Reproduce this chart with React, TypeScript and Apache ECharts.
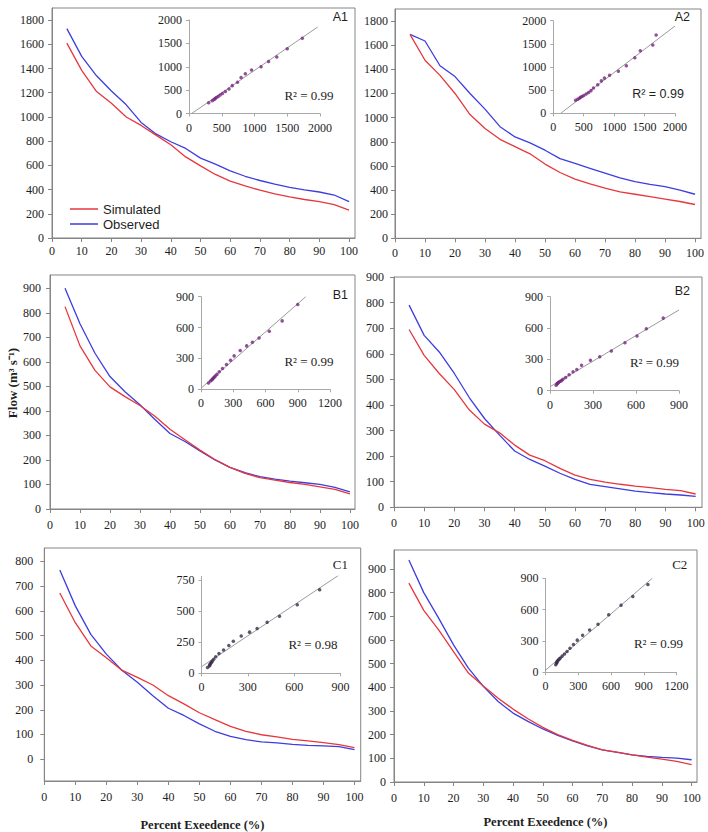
import React, { useEffect, useRef } from 'react';
import * as echarts from 'echarts';

// ---------- data ----------
const pct = [5, 10, 15, 20, 25, 30, 35, 40, 45, 50, 55, 60, 65, 70, 75, 80, 85, 90, 95, 100];

const simA1 = [1610, 1385, 1210, 1113, 1000, 930, 850, 770, 670, 596, 525, 470, 430, 395, 365, 340, 318, 300, 275, 230];
const obsA1 = [1730, 1500, 1340, 1215, 1100, 955, 860, 795, 740, 660, 610, 555, 510, 475, 445, 418, 398, 380, 355, 300];

const simA2 = [1690, 1475, 1350, 1200, 1025, 910, 820, 760, 700, 615, 545, 490, 450, 415, 385, 365, 345, 325, 305, 280];
const obsA2 = [1690, 1635, 1430, 1340, 1200, 1070, 925, 840, 790, 730, 660, 620, 580, 540, 500, 470, 447, 428, 400, 365];

const simB1 = [825, 665, 565, 498, 458, 422, 378, 325, 282, 240, 202, 170, 145, 128, 118, 108, 100, 90, 80, 62];
const obsB1 = [900, 755, 635, 540, 478, 425, 365, 308, 275, 237, 200, 170, 148, 132, 122, 114, 107, 100, 88, 70];

const simB2 = [695, 594, 523, 460, 380, 325, 291, 243, 204, 182, 152, 126, 109, 98, 90, 83, 77, 70, 65, 52];
const obsB2 = [790, 672, 607, 523, 428, 347, 282, 220, 187, 161, 133, 109, 90, 81, 72, 63, 57, 52, 48, 43];

const simC1 = [672, 552, 458, 410, 360, 331, 300, 257, 224, 188, 160, 133, 113, 99, 90, 80, 74, 67, 59, 47];
const obsC1 = [765, 620, 505, 425, 360, 311, 257, 206, 177, 143, 113, 92, 79, 70, 66, 60, 56, 54, 51, 39];

const simC2 = [840, 725, 643, 551, 460, 406, 354, 308, 267, 231, 200, 176, 155, 136, 126, 115, 105, 97, 87, 73];
const obsC2 = [938, 800, 692, 579, 481, 404, 340, 291, 256, 224, 197, 174, 153, 136, 125, 115, 108, 104, 101, 94];

// trend lines of the insets (end points)
const fitA1 = [[41, 0], [1965, 1850]];
const fitA2 = [[122, 0], [2000, 1885]];
const fitB1 = [[0, 10], [975, 900]];
const fitB2 = [[0, 38], [900, 773]];
const fitC1 = [[0, 53], [900, 798]];
const fitC2 = [[0, 20], [978, 900]];

// tick labels
const ticksPct = [0, 10, 20, 30, 40, 50, 60, 70, 80, 90, 100];
const ticksA = [0, 200, 400, 600, 800, 1000, 1200, 1400, 1600, 1800];
const ticks900 = [0, 100, 200, 300, 400, 500, 600, 700, 800, 900];
const ticks800 = [0, 100, 200, 300, 400, 500, 600, 700, 800];
const insetTicks2000 = [0, 500, 1000, 1500, 2000];
const insetTicks900 = [0, 300, 600, 900];
const insetTicks1200 = [0, 300, 600, 900, 1200];
const insetTicks750 = [0, 250, 500, 750];

const r2Labels = ['R² = 0.99', 'R² = 0.99', 'R² = 0.99', 'R² = 0.99', 'R² = 0.98', 'R² = 0.99'];
const panelNames = ['A1', 'A2', 'B1', 'B2', 'C1', 'C2'];

// ---------- styles ----------
const FRAME = '#858585';
const INSET_AXIS = '#a8a8a8';
const TEXT = '#1e1e1e';
const RED = '#e6383c';
const BLUE = '#3d3de0';
const DOT = '#74267e';
const SERIF = '"Liberation Serif", "Times New Roman", serif';
const SANS = '"Liberation Sans", Arial, sans-serif';

type Layout = {
  main: { left: number; top: number; width: number; height: number; xMax: number; yMin: number; yMax: number; yTicks: number[]; yMargin: number; xMargin: number };
  inset: { left: number; top: number; width: number; height: number; xMax: number; yMax: number; xTicks: number[]; yTicks: number[] };
  name: { x: number; y: number; sans: boolean };
  r2: { x: number; y: number; sans: boolean };
  xName?: number;
};

const layouts: Layout[] = [
  {
    main: { left: 52, top: 8, width: 303, height: 230, xMax: 102, yMin: 0, yMax: 1900, yTicks: ticksA, yMargin: 8, xMargin: 7 },
    inset: { left: 189, top: 20, width: 131, height: 93.5, xMax: 2000, yMax: 2000, xTicks: insetTicks2000, yTicks: insetTicks2000 },
    name: { x: 348, y: 17, sans: true },
    r2: { x: 309, y: 95, sans: false },
  },
  {
    main: { left: 395, top: 9, width: 306, height: 229.3, xMax: 102, yMin: 0, yMax: 1900, yTicks: ticksA, yMargin: 7, xMargin: 9 },
    inset: { left: 553.3, top: 20.7, width: 121.7, height: 92.6, xMax: 2000, yMax: 2000, xTicks: insetTicks2000, yTicks: insetTicks2000 },
    name: { x: 690, y: 17, sans: true },
    r2: { x: 658, y: 93.5, sans: true },
  },
  {
    main: { left: 50, top: 275, width: 305, height: 234, xMax: 101.7, yMin: 0, yMax: 954, yTicks: ticks900, yMargin: 9, xMargin: 10 },
    inset: { left: 201, top: 296.7, width: 129, height: 92.6, xMax: 1200, yMax: 900, xTicks: insetTicks1200, yTicks: insetTicks900 },
    name: { x: 348, y: 295, sans: true },
    r2: { x: 309, y: 361, sans: false },
  },
  {
    main: { left: 394, top: 277, width: 308, height: 230.3, xMax: 102.1, yMin: 0, yMax: 900, yTicks: ticks900, yMargin: 10, xMargin: 10 },
    inset: { left: 550, top: 296.7, width: 129, height: 94, xMax: 900, yMax: 900, xTicks: insetTicks900, yTicks: insetTicks900 },
    name: { x: 690, y: 291, sans: true },
    r2: { x: 654.5, y: 362, sans: false },
  },
  {
    main: { left: 44.3, top: 548, width: 316.4, height: 234.7, xMax: 102, yMin: -88, yMax: 854, yTicks: ticks800, yMargin: 11, xMargin: 10 },
    inset: { left: 201.5, top: 576.3, width: 139, height: 97, xMax: 900, yMax: 780, xTicks: insetTicks900, yTicks: insetTicks750 },
    name: { x: 348, y: 564, sans: false },
    r2: { x: 313, y: 644, sans: false },
    xName: 37,
  },
  {
    main: { left: 394, top: 550, width: 303, height: 232, xMax: 101.8, yMin: 0, yMax: 980, yTicks: ticks900, yMargin: 8, xMargin: 10 },
    inset: { left: 545.5, top: 578.3, width: 131, height: 94, xMax: 1200, yMax: 900, xTicks: insetTicks1200, yTicks: insetTicks900 },
    name: { x: 687.3, y: 564, sans: false },
    r2: { x: 658.5, y: 643.5, sans: false },
    xName: 33,
  },
];

const simAll = [simA1, simA2, simB1, simB2, simC1, simC2];
const obsAll = [obsA1, obsA2, obsB1, obsB2, obsC1, obsC2];
const fitAll = [fitA1, fitA2, fitB1, fitB2, fitC1, fitC2];

const plain = (v: number) => String(v);

function buildOption() {
  const grid: any[] = [];
  const xAxis: any[] = [];
  const yAxis: any[] = [];
  const series: any[] = [];
  const graphic: any[] = [];

  const labelStyle = { fontFamily: SERIF, fontSize: 12, color: TEXT, formatter: plain };

  layouts.forEach((L, i) => {
    const m = L.main;
    const s = L.inset;
    const gi = i * 2;
    grid.push({ left: m.left, top: m.top, width: m.width, height: m.height, show: true, borderColor: FRAME, borderWidth: 1, backgroundColor: 'transparent', containLabel: false });
    grid.push({ left: s.left, top: s.top, width: s.width, height: s.height, show: false, containLabel: false });

    xAxis.push({
      type: 'value', gridIndex: gi, min: 0, max: m.xMax,
      axisLine: { show: true, onZero: false, lineStyle: { color: FRAME, width: 1 } },
      axisTick: { show: true, length: 4, customValues: ticksPct, lineStyle: { color: FRAME } },
      axisLabel: { ...labelStyle, margin: m.xMargin, customValues: ticksPct },
      splitLine: { show: false },
      ...(L.xName ? {
        name: 'Percent Exeedence (%)', nameLocation: 'middle', nameGap: L.xName,
        nameTextStyle: { fontFamily: SERIF, fontSize: 12.5, fontWeight: 'bold', color: TEXT },
      } : {}),
    });
    yAxis.push({
      type: 'value', gridIndex: gi, min: m.yMin, max: m.yMax,
      axisLine: { show: true, onZero: false, lineStyle: { color: FRAME, width: 1 } },
      axisTick: { show: true, length: 4, customValues: m.yTicks, lineStyle: { color: FRAME } },
      axisLabel: { ...labelStyle, margin: m.yMargin, customValues: m.yTicks },
      splitLine: { show: false },
    });

    xAxis.push({
      type: 'value', gridIndex: gi + 1, min: 0, max: s.xMax,
      axisLine: { show: true, onZero: false, lineStyle: { color: INSET_AXIS, width: 1 } },
      axisTick: { show: true, length: 3, customValues: s.xTicks, lineStyle: { color: INSET_AXIS } },
      axisLabel: { ...labelStyle, margin: 8, customValues: s.xTicks },
      splitLine: { show: false },
    });
    yAxis.push({
      type: 'value', gridIndex: gi + 1, min: 0, max: s.yMax,
      axisLine: { show: true, onZero: false, lineStyle: { color: INSET_AXIS, width: 1 } },
      axisTick: { show: true, length: 3, customValues: s.yTicks, lineStyle: { color: INSET_AXIS } },
      axisLabel: { ...labelStyle, margin: 7, customValues: s.yTicks },
      splitLine: { show: false },
    });

    const sim = simAll[i];
    const obs = obsAll[i];
    series.push({
      type: 'line', name: 'Observed', xAxisIndex: gi, yAxisIndex: gi,
      data: pct.map((p, k) => [p, obs[k]]), symbol: 'none', color: BLUE,
      lineStyle: { color: BLUE, width: 1.3 }, z: 3,
    });
    series.push({
      type: 'line', name: 'Simulated', xAxisIndex: gi, yAxisIndex: gi,
      data: pct.map((p, k) => [p, sim[k]]), symbol: 'none', color: RED,
      lineStyle: { color: RED, width: 1.3 }, z: 4,
    });
    series.push({
      type: 'line', name: 'trend' + i, xAxisIndex: gi + 1, yAxisIndex: gi + 1,
      data: fitAll[i], symbol: 'none', lineStyle: { color: '#9a9a9a', width: 1 }, z: 2,
    });
    series.push({
      type: 'scatter', name: 'pairs' + i, xAxisIndex: gi + 1, yAxisIndex: gi + 1,
      data: obs.map((o, k) => [o, sim[k]]), symbolSize: 3.5,
      itemStyle: { color: i >= 4 ? '#3a2a4a' : DOT }, z: 5,
    });

    graphic.push({
      type: 'text', x: L.name.x, y: L.name.y,
      style: { text: panelNames[i], fill: TEXT, fontFamily: L.name.sans ? SANS : SERIF, fontSize: L.name.sans ? 12.5 : 13, align: 'right', verticalAlign: 'middle' },
    });
    graphic.push({
      type: 'text', x: L.r2.x, y: L.r2.y,
      style: { text: r2Labels[i], fill: TEXT, fontFamily: L.r2.sans ? SANS : SERIF, fontSize: L.r2.sans ? 12.5 : 13, align: 'center', verticalAlign: 'middle' },
    });
  });

  graphic.push({
    type: 'text', x: 12, y: 383, rotation: Math.PI / 2,
    style: { text: 'Flow (m³ s⁻¹)', fill: TEXT, fontFamily: SERIF, fontSize: 13, fontWeight: 'bold', align: 'center', verticalAlign: 'middle' },
  });

  return {
    animation: false,
    backgroundColor: '#ffffff',
    grid, xAxis, yAxis, series, graphic,
    legend: {
      data: ['Simulated', 'Observed'], orient: 'vertical', left: 65, top: 196.5,
      icon: 'rect', itemWidth: 28, itemHeight: 1.5, itemGap: 0, selectedMode: false,
      textStyle: { fontFamily: SANS, fontSize: 13, color: TEXT, lineHeight: 15 },
    },
  };
}

export default function App() {
  const ref = useRef<HTMLDivElement>(null);
  useEffect(() => {
    if (!ref.current) return;
    const chart = echarts.init(ref.current, undefined, { renderer: 'svg' });
    chart.setOption(buildOption() as any);
    return () => chart.dispose();
  }, []);
  return <div ref={ref} style={{ position: 'fixed', left: 0, top: 0, width: 708, height: 832, background: '#fff' }} />;
}
